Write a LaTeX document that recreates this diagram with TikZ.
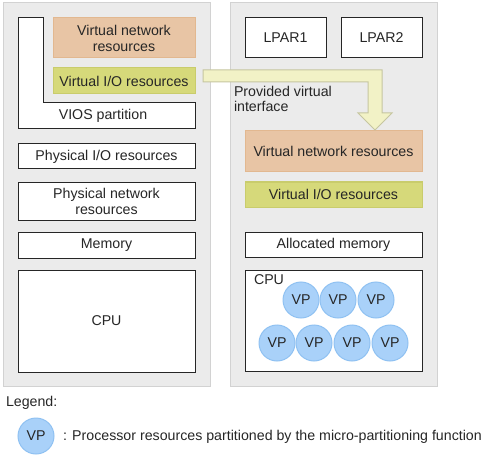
\documentclass[tikz,border=0pt]{standalone}
\usepackage{fontspec}
\setmainfont{Liberation Sans}
\definecolor{panelfill}{HTML}{EBEBEB}
\definecolor{paneldraw}{HTML}{D2D2D2}
\definecolor{orfill}{HTML}{E8C5A5}
\definecolor{ordraw}{HTML}{E2B890}
\definecolor{ygfill}{HTML}{D6D97A}
\definecolor{ygdraw}{HTML}{C9CC6C}
\definecolor{arfill}{HTML}{F2F2C6}
\definecolor{ardraw}{HTML}{C6C6A0}
\definecolor{vpfill}{HTML}{A9D1F9}
\definecolor{vpdraw}{HTML}{8FC1F2}
\begin{document}
\begin{tikzpicture}[x=1pt,y=-1pt,
  every node/.style={font=\fontsize{14.2}{16}\selectfont, text=black!85, inner sep=0pt, outer sep=0pt},
  panel/.style={fill=panelfill, draw=paneldraw, line width=1pt},
  box/.style={draw=black!85, fill=white, line width=1pt, align=center},
  orbox/.style={draw=ordraw, fill=orfill, line width=1pt, align=center},
  ygbox/.style={draw=ygdraw, fill=ygfill, line width=1pt, align=center},
  vp/.style={circle, draw=vpdraw, fill=vpfill, line width=1pt, minimum size=36pt}]
\useasboundingbox (0,0) rectangle (484,457);
% panels
\draw[panel] (3,3) rectangle (210,386);
\draw[panel] (230,3) rectangle (437,386);
% VIOS partition L-shape
\draw[draw=black!85, fill=white, line width=1pt] (18,18) -- (43,18) -- (43,103) -- (195,103) -- (195,129) -- (18,129) -- cycle;
\node (vios) at (103,116) {VIOS partition};
\node[orbox, minimum width=142pt, minimum height=40pt] (lvnr) at (124,38) {Virtual network\\resources};
\node[ygbox, minimum width=142pt, minimum height=26pt] (lvio) at (124,81) {Virtual I/O resources};
\node[box, minimum width=177pt, minimum height=25pt] (pio) at (106.5,156.5) {Physical I/O resources};
\node[box, minimum width=177pt, minimum height=38pt] (pnet) at (106.5,201) {Physical network\\resources};
\node[box, minimum width=177pt, minimum height=26pt] (mem) at (106.5,245) {Memory};
\node[box, minimum width=177pt, minimum height=102pt] (cpu) at (106.5,321) {CPU};
% right side
\node[box, minimum width=81pt, minimum height=40pt] (lpar1) at (285.5,38) {LPAR1};
\node[box, minimum width=81pt, minimum height=40pt] (lpar2) at (381.5,38) {LPAR2};
\node[orbox, minimum width=177pt, minimum height=41pt] (rvnr) at (333.5,151.5) {Virtual network resources};
\node[ygbox, minimum width=177pt, minimum height=25pt] (rvio) at (333.5,194.5) {Virtual I/O resources};
\node[box, minimum width=177pt, minimum height=25pt] (amem) at (333.5,244.5) {Allocated memory};
\node[box, minimum width=177pt, minimum height=101pt] (rcpu) at (333.5,320.5) {};
\node[anchor=west] (rcpulbl) at (254,280) {CPU};
\foreach \n/\x/\y in {a/301/300,b/338/300,c/376/300,d/277/343,e/314/343,f/352/343,g/390/343}
  \node[vp] (vp\n) at (\x,\y) {VP};
% arrow
\draw[fill=arfill, draw=ardraw, line width=1pt] (203,70) -- (382,70) -- (382,113) -- (392,113) -- (375,130) -- (358,113) -- (368,113) -- (368,82) -- (203,82) -- cycle;
\node[anchor=north west, align=left, font=\fontsize{14.2}{15}\selectfont] (pvi) at (234,86) {Provided virtual\\interface};
% legend
\node[anchor=west] (legend) at (6,403) {Legend:};
\node[vp] (vpleg) at (36,436) {VP};
\node[anchor=west] (legtext) at (63,437) {: Processor resources partitioned by the micro-partitioning function};
\end{tikzpicture}
\end{document}
